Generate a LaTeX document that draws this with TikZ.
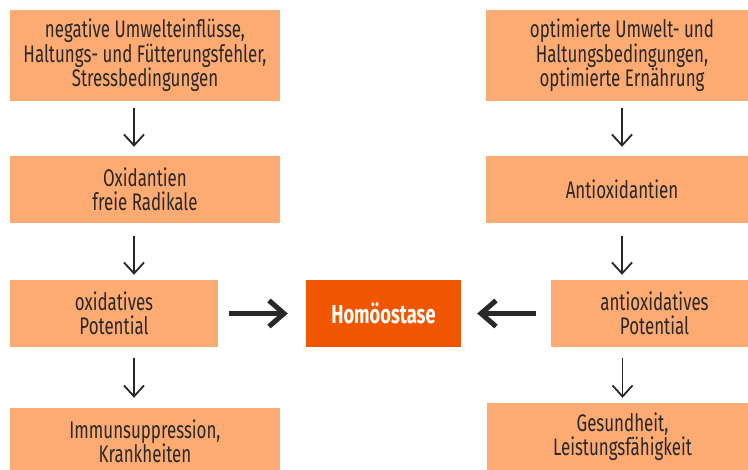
\documentclass[tikz,border=0pt]{standalone}
\usepackage{fontspec}
\setmainfont{Fira Sans}[FakeStretch=0.705]
\usetikzlibrary{arrows.meta}

\definecolor{boxorange}{RGB}{253,170,115}
\definecolor{homorange}{RGB}{240,85,0}
\definecolor{textgray}{RGB}{40,40,40}

\begin{document}
\begin{tikzpicture}[x=1pt,y=-1pt,
        box/.style={
          fill=boxorange,text=textgray,align=center,inner sep=0pt,
          minimum height=67pt,font=\fontsize{24}{24.5}\selectfont
        },
        homeo/.style={
          fill=homorange,text=white,inner sep=0pt,
          minimum width=155pt,minimum height=67pt,
          font=\fontsize{26}{26}\selectfont\bfseries
        },
        down/.style={
          draw=textgray,line width=1.8pt,
          -{Straight Barb[length=11pt,width=20pt]}
        },
        push/.style={
          draw=textgray,line width=5pt,
          -{Straight Barb[length=15pt,width=26pt]}
        }
      ]
      \useasboundingbox (0,0) rectangle (748,470);
      % left column
      \node [box,minimum width=270pt,minimum height=91pt] (neg) at (145,55.5)
        {negative Umwelteinflüsse,\\Haltungs- und Fütterungsfehler,\\Stressbedingungen};
      \node [box,minimum width=270pt] (ox) at (145,189.5) {Oxidantien\\freie Radikale};
      \node [box,minimum width=208pt] (oxpot) at (114,313.5) {oxidatives\\Potential};
      \node [box,minimum width=270pt] (krank) at (145,441.5) {Immunsuppression,\\Krankheiten};
      % right column
      \node [box,minimum width=272pt,minimum height=91pt] (opt) at (622,55.5)
        {optimierte Umwelt- und\\Haltungsbedingungen,\\optimierte Ernährung};
      \node [box,minimum width=272pt] (antiox) at (622,189.5) {Antioxidantien};
      \node [box,minimum width=207pt] (antipot) at (654.5,313.5) {antioxidatives\\Potential};
      \node [box,minimum width=271pt] (gesund) at (622.5,436.5) {Gesundheit,\\Leistungsfähigkeit};
      % middle
      \node [homeo] (homoeo) at (383.5,313.5) {Homöostase};
      \draw [down,shorten <=7pt,shorten >=9pt] ([xshift=-11pt]neg.south) -- ([xshift=-11pt]ox.north);
      \draw [down,shorten <=13pt,shorten >=5pt] ([xshift=-11pt]ox.south) -- ([xshift=-11pt]ox.south |- oxpot.north);
      \draw [down,shorten <=11pt,shorten >=10pt] ([xshift=-11pt]krank.north |- oxpot.south) -- ([xshift=-11pt]krank.north);
      \draw [down,shorten <=7pt,shorten >=9pt] (opt.south) -- (antiox.north);
      \draw [down,shorten <=13pt,shorten >=5pt] (antiox.south) -- (antiox.south |- antipot.north);
      \draw [down,shorten <=11pt,shorten >=5pt] (gesund.north |- antipot.south) -- (gesund.north);
      \draw [push,shorten <=11pt,shorten >=18pt] (oxpot.east) -- (homoeo.west);
      \draw [push,shorten <=15pt,shorten >=16pt] (antipot.west) -- (homoeo.east);
    \end{tikzpicture}
\end{document}
